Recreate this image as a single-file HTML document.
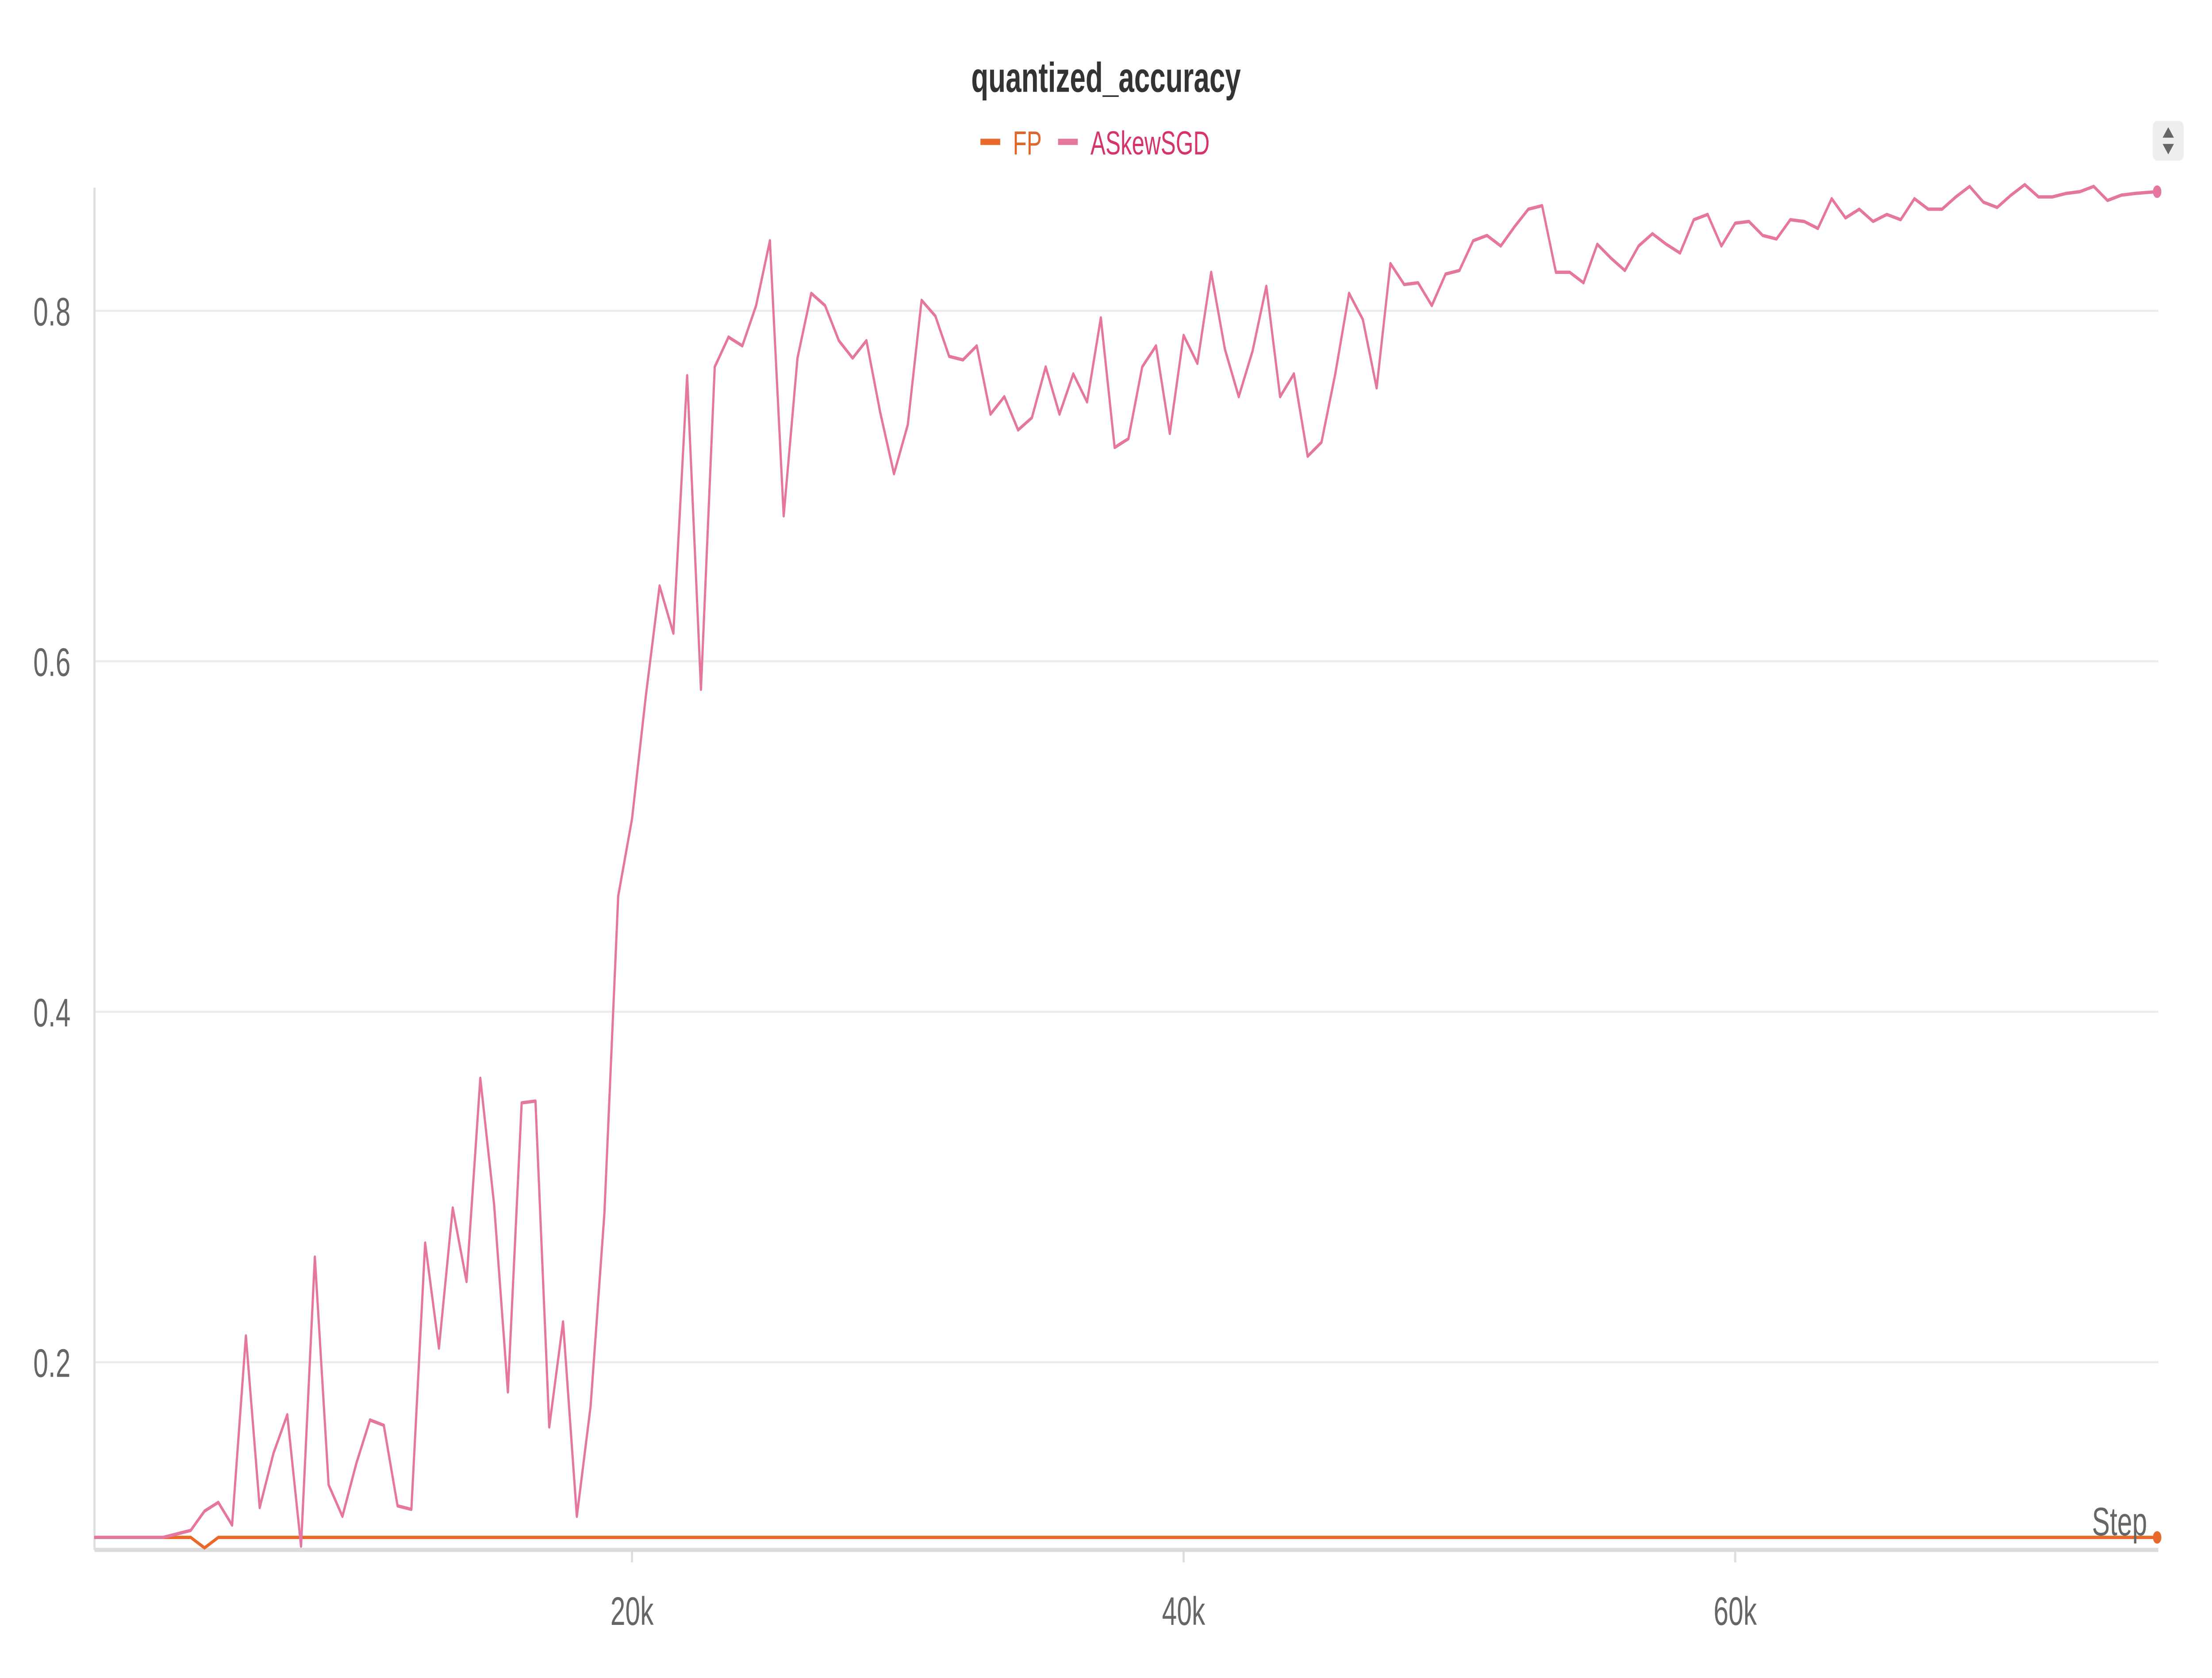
<!DOCTYPE html>
<html><head><meta charset="utf-8"><style>
html,body{margin:0;padding:0;background:#fff;width:100%;height:100%;overflow:hidden;}
svg{display:block;font-family:"Liberation Sans",sans-serif;width:100vw;height:100vh;}
</style></head><body>
<svg id="chart" viewBox="0 0 1568 804.4" preserveAspectRatio="none" xmlns="http://www.w3.org/2000/svg">
<text x="784" y="44" text-anchor="middle" font-size="20" font-weight="bold" fill="#333">quantized_accuracy</text>
<g>
<g><line x1="695" y1="68" x2="709" y2="68" stroke="#e8692a" stroke-width="3"/><text x="718" y="74" font-size="16" fill="#e0662a">FP</text></g>
<g><line x1="750" y1="68" x2="764" y2="68" stroke="#e5769f" stroke-width="3"/><text x="773" y="74" font-size="16" fill="#d6336c">ASkewSGD</text></g>
</g>
<g><rect x="1526" y="58" width="22" height="19" rx="3" fill="#eee"/><path d="M1533 66 L1537 61 L1541 66 Z M1533 69 L1537 74 L1541 69 Z" fill="#666"/></g>
<g id="grid"></g>
<g id="axes"></g>
<g id="series"></g>
<text x="1522" y="736" text-anchor="end" font-size="19" fill="#666">Step</text>
</svg>
<script>
const xTickValues=[20000,40000,60000];
const xTickLabels=["20k","40k","60k"];
const yTickValues=[0.2,0.4,0.6,0.8];
const yTickLabels=["0.2","0.4","0.6","0.8"];
const askewValues=[0.1,0.1,0.1,0.1,0.1,0.1,0.102,0.104,0.115,0.12,0.107,0.215,0.117,0.148,0.17,0.095,0.26,0.13,0.112,0.142,0.167,0.164,0.118,0.116,0.268,0.208,0.288,0.246,0.362,0.29,0.183,0.348,0.349,0.163,0.223,0.112,0.175,0.285,0.466,0.51,0.58,0.643,0.616,0.763,0.584,0.768,0.785,0.78,0.803,0.84,0.683,0.773,0.81,0.803,0.783,0.773,0.783,0.742,0.707,0.735,0.806,0.797,0.774,0.772,0.78,0.741,0.751,0.732,0.739,0.768,0.741,0.764,0.748,0.796,0.722,0.727,0.768,0.78,0.73,0.786,0.77,0.822,0.778,0.751,0.777,0.814,0.751,0.764,0.717,0.725,0.764,0.81,0.795,0.756,0.827,0.815,0.816,0.803,0.821,0.823,0.84,0.843,0.837,0.848,0.858,0.86,0.822,0.822,0.816,0.838,0.83,0.823,0.837,0.844,0.838,0.833,0.852,0.855,0.837,0.85,0.851,0.843,0.841,0.852,0.851,0.847,0.864,0.853,0.858,0.851,0.855,0.852,0.864,0.858,0.858,0.865,0.871,0.862,0.859,0.866,0.872,0.865,0.865,0.867,0.868,0.871,0.863,0.866,0.867,0.868];
const fpSteps=[500,3500,4000,4500,5000,75300];
const fpValues=[0.1,0.1,0.1,0.094,0.1,0.1];
const NS="http://www.w3.org/2000/svg";
const X0=57, PX20K=391, YREF=149;
function xs(s){return X0+s/20000*PX20K;}
function ys(v){return YREF+(0.8-v)*840;}
function mk(tag,attrs,parent){const e=document.createElementNS(NS,tag);for(const k in attrs)e.setAttribute(k,attrs[k]);parent.appendChild(e);return e;}
const grid=document.getElementById('grid'),axes=document.getElementById('axes'),series=document.getElementById('series');
const plotL=67,plotR=1530,plotT=90,plotB=743;
yTickValues.forEach((v,i)=>{
  const l=mk('line',{x1:plotL,x2:plotR,y1:ys(v),y2:ys(v),stroke:'#ececec','stroke-width':1},grid);
  
  
  const t=mk('text',{x:50,y:ys(v)+7,'text-anchor':'end','font-size':19,fill:'#666'},axes);
  t.textContent=yTickLabels[i];
  
  
});
xTickValues.forEach((v,i)=>{
  const l=mk('line',{x1:xs(v),x2:xs(v),y1:plotB,y2:plotB+6,stroke:'#ddd','stroke-width':1.5},axes);
  
  
  const t=mk('text',{x:xs(v),y:779,'text-anchor':'middle','font-size':19,fill:'#666'},axes);
  t.textContent=xTickLabels[i];
  
  
});
const xa=mk('line',{x1:plotL,x2:plotR,y1:plotB,y2:plotB,stroke:'#ddd','stroke-width':2},axes);


const ya=mk('line',{x1:plotL,x2:plotL,y1:plotT,y2:plotB,stroke:'#ddd','stroke-width':1.5},axes);


const fpPts=fpSteps.map((s,i)=>xs(s)+','+ys(fpValues[i])).join(' ');
const fp=mk('polyline',{points:fpPts,fill:'none',stroke:'#e8692a','stroke-width':1.6},series);


const fpDot=mk('circle',{cx:xs(fpSteps[fpSteps.length-1]),cy:ys(fpValues[fpValues.length-1]),r:3,fill:'#e8692a'},series);


const aPts=askewValues.map((v,i)=>xs(500*(i+1)+(i>=askewValues.length-1?300:0))+','+ys(v)).join(' ');
const a=mk('polyline',{points:aPts,fill:'none',stroke:'#e5769f','stroke-width':1.6,'stroke-linejoin':'round'},series);


const last=askewValues.length-1;
const aDot=mk('circle',{cx:xs(500*(last+1)+300),cy:ys(askewValues[last]),r:3,fill:'#e5769f'},series);


</script>
</body></html>
